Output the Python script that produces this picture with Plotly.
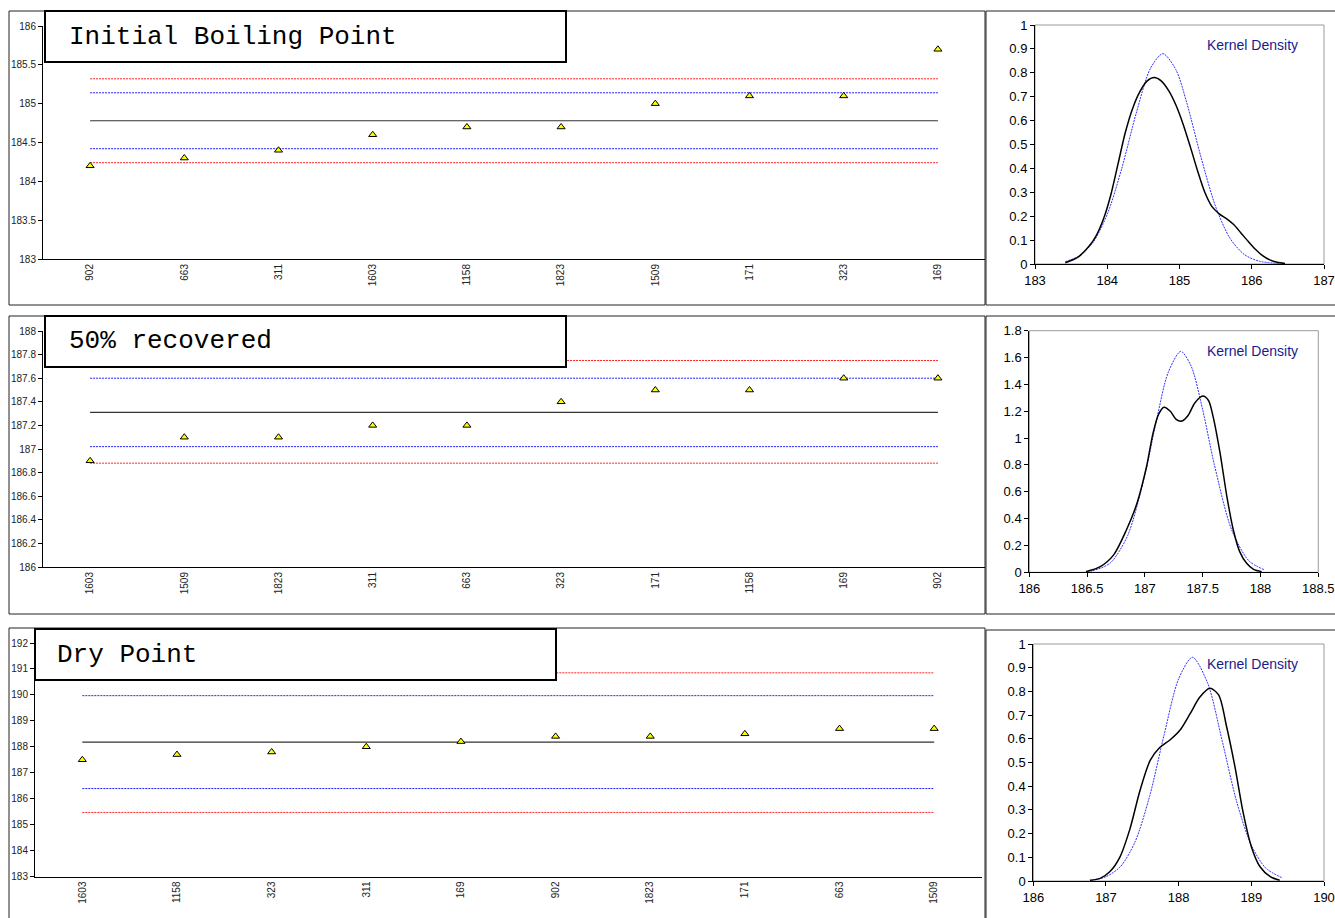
import plotly.graph_objects as go

W, H = 1335, 918

# ---------------- data ----------------
ibp_labels = ["902", "663", "311", "1603", "1158", "1823", "1509", "171", "323", "169"]
ibp_values = [184.2, 184.3, 184.4, 184.6, 184.7, 184.7, 185.0, 185.1, 185.1, 185.7]
ibp_mean = 184.78
ibp_inner = [184.42, 185.14]
ibp_outer = [184.24, 185.32]

r50_labels = ["1603", "1509", "1823", "311", "663", "323", "171", "1158", "169", "902"]
r50_values = [186.9, 187.1, 187.1, 187.2, 187.2, 187.4, 187.5, 187.5, 187.6, 187.6]
r50_mean = 187.31
r50_inner = [187.02, 187.60]
r50_outer = [186.88, 187.75]

dp_labels = ["1603", "1158", "323", "311", "169", "902", "1823", "171", "663", "1509"]
dp_values = [187.5, 187.7, 187.8, 188.0, 188.2, 188.4, 188.4, 188.5, 188.7, 188.7]
dp_mean = 188.18
dp_inner = [186.39, 189.97]
dp_outer = [185.47, 190.85]

# kernel density (black) and normal density (blue dotted)
ibp_kde_x = [183.42, 183.6, 183.75, 183.85, 183.95, 184.05, 184.15, 184.25, 184.35, 184.45, 184.55,
             184.65, 184.75, 184.85, 184.95, 185.05, 185.15, 185.25, 185.35, 185.45, 185.55, 185.65,
             185.75, 185.85, 185.95, 186.05, 186.15, 186.25, 186.35, 186.46]
ibp_kde_y = [0.005, 0.03, 0.075, 0.12, 0.19, 0.29, 0.42, 0.55, 0.65, 0.72, 0.765, 0.78, 0.765, 0.725,
             0.665, 0.585, 0.49, 0.39, 0.30, 0.24, 0.21, 0.19, 0.165, 0.13, 0.095, 0.062, 0.035, 0.017,
             0.007, 0.002]
ibp_norm_x = [183.42, 183.6, 183.8, 184.0, 184.2, 184.4, 184.6, 184.77, 184.95, 185.1, 185.3, 185.5,
              185.7, 185.9, 186.1, 186.37]
ibp_norm_y = [0.010, 0.032, 0.089, 0.208, 0.399, 0.630, 0.820, 0.880, 0.813, 0.675, 0.444, 0.240,
              0.107, 0.039, 0.012, 0.002]

r50_kde_x = [186.49, 186.61, 186.73, 186.84, 186.93, 187.015, 187.07, 187.12, 187.165, 187.22, 187.27,
             187.32, 187.375, 187.43, 187.50, 187.55, 187.59, 187.65, 187.71, 187.765, 187.82, 187.88,
             187.94, 188.01]
r50_kde_y = [0.005, 0.04, 0.13, 0.315, 0.51, 0.79, 1.035, 1.18, 1.23, 1.20, 1.14, 1.127, 1.17, 1.26,
             1.313, 1.28, 1.16, 0.89, 0.56, 0.315, 0.154, 0.067, 0.022, 0.005]
r50_norm_x = [186.5, 186.55, 186.7, 186.85, 187.0, 187.1, 187.2, 187.31, 187.4, 187.5, 187.6, 187.75,
              187.9, 188.03]
r50_norm_y = [0.006, 0.012, 0.069, 0.272, 0.727, 1.131, 1.485, 1.646, 1.536, 1.21, 0.805, 0.317,
              0.085, 0.020]

dp_kde_x = [186.78, 186.92, 187.055, 187.19, 187.33, 187.47, 187.61, 187.74, 187.88, 188.02, 188.16,
            188.29, 188.43, 188.55, 188.66, 188.775, 188.89, 189.00, 189.12, 189.26, 189.39]
dp_kde_y = [0.003, 0.011, 0.04, 0.10, 0.22, 0.384, 0.51, 0.563, 0.595, 0.637, 0.707, 0.775, 0.813,
            0.785, 0.651, 0.482, 0.285, 0.145, 0.06, 0.018, 0.003]
dp_norm_x = [186.85, 187.0, 187.2, 187.4, 187.6, 187.8, 188.0, 188.19, 188.4, 188.6, 188.8, 189.0,
             189.2, 189.42]
dp_norm_y = [0.006, 0.018, 0.061, 0.165, 0.357, 0.617, 0.853, 0.944, 0.834, 0.590, 0.333, 0.151,
             0.054, 0.014]

titles = ["Initial Boiling Point", "50% recovered", "Dry Point"]
density_label = "Kernel Density"

# ---------------- layout geometry (pixels -> paper) ----------------
def px(x):
    return x / W


def py(y):
    return 1 - y / H


def xd(a, b):
    return [px(a), px(b)]


def yd(top, bottom):
    return [py(bottom), py(top)]


rows = [
    dict(labels=ibp_labels, values=ibp_values, mean=ibp_mean, inner=ibp_inner, outer=ibp_outer,
         lx=(43, 985), ly=(26, 259), lrange=[183, 186], ldtick=0.5,
         rx=(1035, 1324), ry=(25, 264), rxrange=[183, 187], rxdtick=1, ryrange=[0, 1], rydtick=0.1,
         kx=ibp_kde_x, ky=ibp_kde_y, nx=ibp_norm_x, ny=ibp_norm_y,
         frame=(9, 11, 985, 305), rframe=(986, 11, 1340, 305),
         box=(45, 11, 566, 62), tx=67, ty=37, ky_lab=45),
    dict(labels=r50_labels, values=r50_values, mean=r50_mean, inner=r50_inner, outer=r50_outer,
         lx=(43, 985), ly=(331, 567), lrange=[186, 188], ldtick=0.2,
         rx=(1029.3, 1318.3), ry=(330.7, 572.3), rxrange=[186, 188.5], rxdtick=0.5, ryrange=[0, 1.8], rydtick=0.2,
         kx=r50_kde_x, ky=r50_kde_y, nx=r50_norm_x, ny=r50_norm_y,
         frame=(9, 316, 985, 614), rframe=(986, 316, 1340, 614),
         box=(45, 316, 566, 367), tx=67, ty=341, ky_lab=351),
    dict(labels=dp_labels, values=dp_values, mean=dp_mean, inner=dp_inner, outer=dp_outer,
         lx=(35, 981.5), ly=(643, 876.5), lrange=[183, 192], ldtick=1,
         rx=(1033.3, 1324), ry=(644, 881), rxrange=[186, 190], rxdtick=1, ryrange=[0, 1], rydtick=0.1,
         kx=dp_kde_x, ky=dp_kde_y, nx=dp_norm_x, ny=dp_norm_y,
         frame=(9, 628, 985, 925), rframe=(986, 630, 1340, 925),
         box=(35, 629, 556, 680), tx=55, ty=655, ky_lab=664),
]

FONT = "Liberation Sans, Arial, sans-serif"
MONO = "Liberation Mono, Courier New, monospace"
DOT = "2px,1px"

fig = go.Figure()
layout = dict(width=W, height=H, autosize=False,
              margin=dict(l=0, r=0, t=0, b=0, pad=0, autoexpand=False),
              paper_bgcolor="white", plot_bgcolor="white", showlegend=False,
              font=dict(family=FONT, color="black"))
shapes = []
annotations = []

for i, r in enumerate(rows):
    nl = 2 * i + 1
    nr = 2 * i + 2
    xl = "x" if nl == 1 else f"x{nl}"
    yl = "y" if nl == 1 else f"y{nl}"
    xr = f"x{nr}"
    yr = f"y{nr}"
    labs = r["labels"]
    ends = [labs[0], labs[-1]]

    # reference lines
    for v in r["outer"]:
        fig.add_trace(go.Scatter(x=ends, y=[v, v], mode="lines", xaxis=xl, yaxis=yl,
                                 line=dict(color="#FF2020", width=1, dash=DOT), hoverinfo="skip"))
    for v in r["inner"]:
        fig.add_trace(go.Scatter(x=ends, y=[v, v], mode="lines", xaxis=xl, yaxis=yl,
                                 line=dict(color="#2020FF", width=1, dash=DOT), hoverinfo="skip"))
    fig.add_trace(go.Scatter(x=ends, y=[r["mean"], r["mean"]], mode="lines", xaxis=xl, yaxis=yl,
                             line=dict(color="#333333", width=1.2), hoverinfo="skip"))
    # points
    fig.add_trace(go.Scatter(x=labs, y=r["values"], mode="markers", xaxis=xl, yaxis=yl,
                             marker=dict(symbol="triangle-up", size=7, color="#FFFF00",
                                         line=dict(color="black", width=1))))
    # densities
    fig.add_trace(go.Scatter(x=r["nx"], y=r["ny"], mode="lines", xaxis=xr, yaxis=yr,
                             line=dict(color="#3030FF", width=1, dash=DOT, shape="spline", smoothing=0.8)))
    fig.add_trace(go.Scatter(x=r["kx"], y=r["ky"], mode="lines", xaxis=xr, yaxis=yr,
                             line=dict(color="black", width=1.5, shape="spline", smoothing=0.8)))

    kl = "xaxis" if nl == 1 else f"xaxis{nl}"
    layout[kl] = dict(domain=xd(*r["lx"]), anchor=yl, type="category", categoryorder="array",
                      categoryarray=labs, range=[-0.5, 9.5], tickangle=-90, showline=True,
                      linecolor="black", linewidth=1, ticks="", showgrid=False, zeroline=False,
                      automargin=False, tickfont=dict(size=10, family=FONT, color="#222"))
    layout["yaxis" if nl == 1 else f"yaxis{nl}"] = dict(
        domain=yd(*r["ly"]), anchor=xl, range=r["lrange"], dtick=r["ldtick"], showline=True,
        linecolor="black", linewidth=1, ticks="outside", ticklen=4, tickcolor="black",
        showgrid=False, zeroline=False, automargin=False,
        tickfont=dict(size=10, family=FONT, color="#222"))
    layout[f"xaxis{nr}"] = dict(domain=xd(*r["rx"]), anchor=yr, range=r["rxrange"], dtick=r["rxdtick"],
                                showline=True, linecolor="black", linewidth=1, ticks="outside",
                                ticklen=4, tickcolor="black", showgrid=False, zeroline=False,
                                automargin=False, tickfont=dict(size=13, family=FONT, color="black"))
    layout[f"yaxis{nr}"] = dict(domain=yd(*r["ry"]), anchor=xr, range=r["ryrange"], dtick=r["rydtick"],
                                showline=True, linecolor="black", linewidth=1, ticks="outside",
                                ticklen=4, tickcolor="black", showgrid=False, zeroline=False,
                                automargin=False, tickfont=dict(size=13, family=FONT, color="black"))

    # frames
    x0, y0, x1, y1 = r["frame"]
    shapes.append(dict(type="rect", xref="paper", yref="paper", x0=px(x0), x1=px(x1), y0=py(y1), y1=py(y0),
                       line=dict(color="#222", width=1), layer="below"))
    x0, y0, x1, y1 = r["rframe"]
    shapes.append(dict(type="rect", xref="paper", yref="paper", x0=px(x0), x1=px(x1), y0=py(y1), y1=py(y0),
                       line=dict(color="#222", width=1), layer="below"))
    # gray plot-area border for density panel
    shapes.append(dict(type="rect", xref="paper", yref="paper", x0=px(r["rx"][0]), x1=px(r["rx"][1]),
                       y0=py(r["ry"][1]), y1=py(r["ry"][0]), line=dict(color="#9a9a9a", width=1),
                       layer="below"))
    # title box
    x0, y0, x1, y1 = r["box"]
    shapes.append(dict(type="rect", xref="paper", yref="paper", x0=px(x0), x1=px(x1), y0=py(y1), y1=py(y0),
                       line=dict(color="black", width=2), fillcolor="white", layer="above"))
    annotations.append(dict(text=titles[i], xref="paper", yref="paper", x=px(r["tx"]), y=py(r["ty"]),
                            xanchor="left", yanchor="middle", showarrow=False,
                            font=dict(family=MONO, size=26, color="black")))
    annotations.append(dict(text=density_label, xref="paper", yref="paper", x=px(1205), y=py(r["ky_lab"]),
                            xanchor="left", yanchor="middle", showarrow=False,
                            font=dict(family=FONT, size=14, color="#1a1a8c")))

layout["shapes"] = shapes
layout["annotations"] = annotations
fig.update_layout(**layout)
fig.write_html("out.html")
